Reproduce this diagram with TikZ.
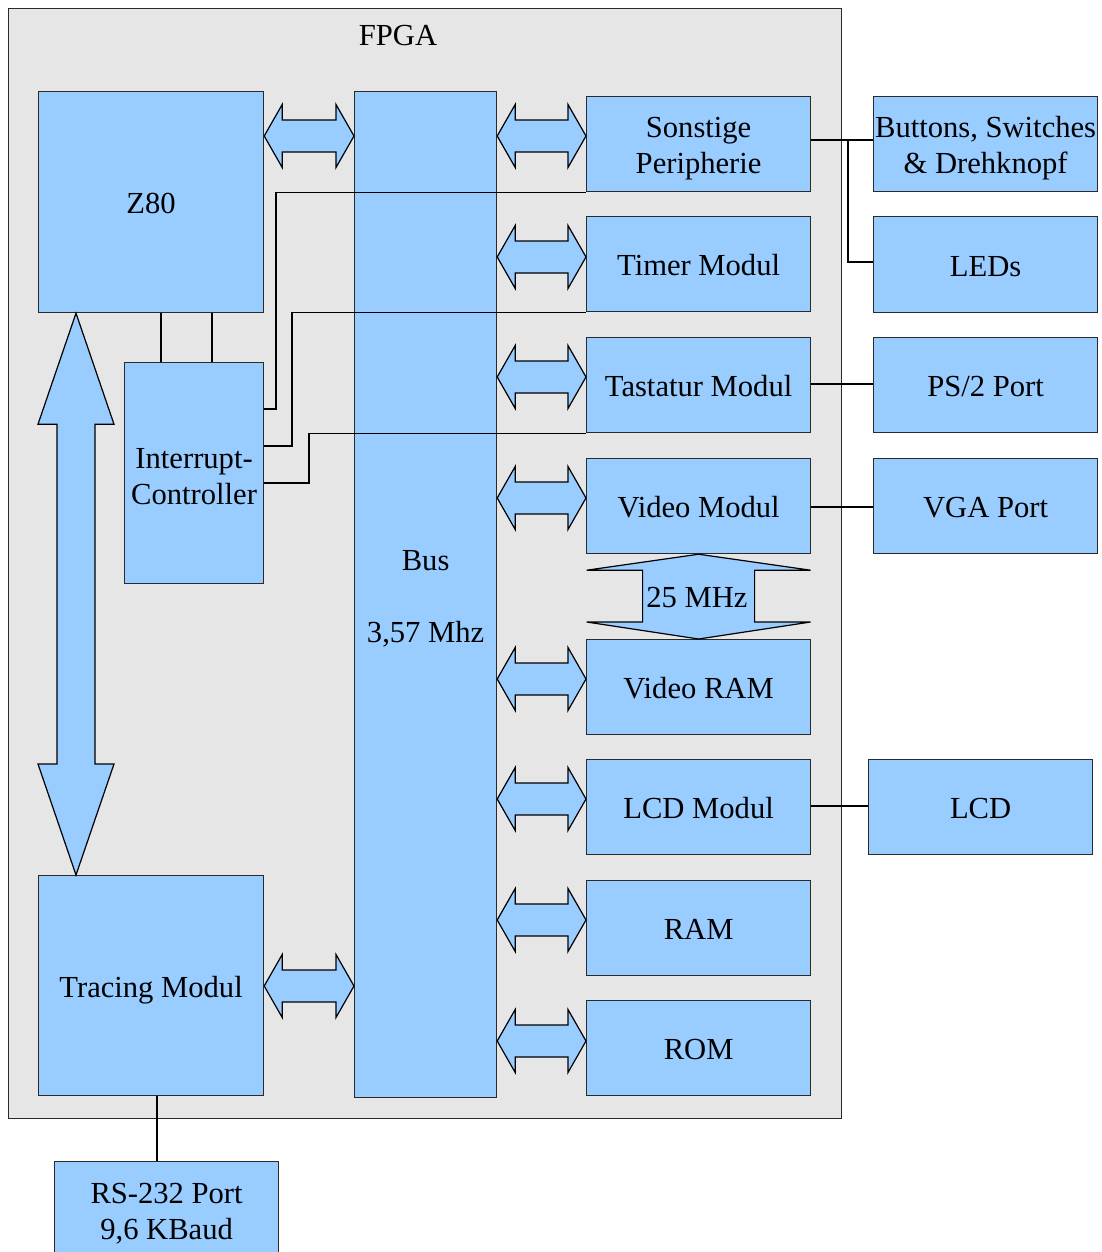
\documentclass[tikz,border=0pt]{standalone}
\usepackage{fontspec}
\setmainfont{Liberation Serif}
\usetikzlibrary{calc}
\definecolor{boxblue}{HTML}{99CCFF}
\definecolor{fpgagray}{HTML}{E6E6E6}
\definecolor{edge}{HTML}{2A2A2A}
\newcommand\fs{\fontsize{30.6}{36}\selectfont}
\newcommand\tstrut[1]{\rule{0pt}{#1pt}}
\tikzset{
  blk/.style={draw=edge, fill=boxblue, line width=1.2pt, inner sep=0pt, align=center, font=\fs, anchor=north west},
  one/.style={text height=30pt, text depth=6.5pt},
  modbox/.style={blk, minimum width=224pt, minimum height=95pt},
  fpgabox/.style={draw=edge, fill=fpgagray, line width=1.2pt, inner sep=0pt, anchor=north west},
  wire/.style={draw=black, line width=1.2pt},
  bigarrow/.style={draw=black, fill=boxblue, line width=1.2pt, line join=miter},
  lbl/.style={font=\fs, inner sep=0pt}
}
\newcommand\harrow[3]{%
  \coordinate (L) at (#1.east|-0,#3);
  \coordinate (R) at (#2.west|-0,#3);
  \draw[bigarrow] (L) -- ($(L)+(18,-31.5)$) -- ($(L)+(18,-16)$) -- ($(R)+(-18,-16)$)
    -- ($(R)+(-18,-31.5)$) -- (R) -- ($(R)+(-18,31.5)$) -- ($(R)+(-18,16)$)
    -- ($(L)+(18,16)$) -- ($(L)+(18,31.5)$) -- cycle;}
\begin{document}
\begin{tikzpicture}[x=1pt,y=-1pt]
\useasboundingbox (0,0) rectangle (1102,1252);
% FPGA frame
\node[fpgabox, minimum width=833pt, minimum height=1110pt] (fpga) at (8,8) {};
\node[lbl] (fpgat) at (398,36) {FPGA};
% left blocks
\node[blk, one, minimum width=225pt, minimum height=221pt] (z80) at (38,91) {Z80};
\node[blk, minimum width=142pt, minimum height=1006pt] (bus) at (354,91) {\tstrut{28}Bus\\[36pt]3,57 Mhz};
\node[blk, minimum width=139pt, minimum height=221pt] (ic) at (124,362) {\tstrut{27}Interrupt-\\Controller};
\node[blk, one, minimum width=225pt, minimum height=220pt] (trace) at (38,875) {Tracing Modul};
% modules
\node[modbox] (sonst) at (586,96) {\tstrut{30}Sonstige\\Peripherie};
\node[modbox, one] (timer) at (586,216) {Timer Modul};
\node[modbox, one] (tast) at (586,337) {Tastatur Modul};
\node[modbox, one] (video) at (586,458) {Video Modul};
\node[modbox, one] (vram) at (586,639) {Video RAM};
\node[modbox, one] (lcdm) at (586,759) {LCD Modul};
\node[modbox, one] (ram) at (586,880) {RAM};
\node[modbox, one] (rom) at (586,1000) {ROM};
% external
\node[modbox] (btn) at (873,96) {\tstrut{30}Buttons, Switches\\ \& Drehknopf};
\node[modbox, one, minimum height=96pt] (leds) at (873,216) {LEDs};
\node[modbox, one] (ps2) at (873,337) {PS/2 Port};
\node[modbox, one] (vga) at (873,458) {VGA Port};
\node[modbox, one] (lcd) at (868,759) {LCD};
\node[modbox, minimum height=100pt] (rs) at (54,1161) {\tstrut{24}RS-232 Port\\9,6 KBaud};
% bus arrows
\harrow{z80}{bus}{136}
\harrow{trace}{bus}{986}
\harrow{bus}{sonst}{136}
\harrow{bus}{timer}{257}
\harrow{bus}{tast}{377}
\harrow{bus}{video}{498}
\harrow{bus}{vram}{679}
\harrow{bus}{lcdm}{799}
\harrow{bus}{ram}{920}
\harrow{bus}{rom}{1041}
% vertical arrow Z80 <-> Tracing
\coordinate (T) at (z80.south-|76,0);
\coordinate (B) at (trace.north-|76,0);
\draw[bigarrow] (T) -- ($(T)+(38,111)$) -- ($(T)+(19,111)$) -- ($(B)+(19,-111)$)
  -- ($(B)+(38,-111)$) -- (B) -- ($(B)+(-38,-111)$) -- ($(B)+(-19,-111)$)
  -- ($(T)+(-19,111)$) -- ($(T)+(-38,111)$) -- cycle;
% 25 MHz arrow
\coordinate (VT) at (video.south);
\coordinate (VB) at (vram.north);
\draw[bigarrow] (VT) -- ($(VT)+(112,16)$) -- ($(VT)+(56,16)$) -- ($(VB)+(56,-17)$)
  -- ($(VB)+(112,-17)$) -- (VB) -- ($(VB)+(-112,-17)$) -- ($(VB)+(-56,-17)$)
  -- ($(VT)+(-56,16)$) -- ($(VT)+(-112,16)$) -- cycle;
\node[lbl] (mhz) at (697,598) {25 MHz};
% Z80 <-> interrupt controller
\draw[wire] (z80.south-|161,0) -- (ic.north-|161,0);
\draw[wire] (z80.south-|212,0) -- (ic.north-|212,0);
% interrupt lines
\draw[wire] (ic.east|-0,409) -- (276,409) |- (sonst.south west);
\draw[wire] (ic.east|-0,446) -- (292,446) |- (timer.south west);
\draw[wire] (ic.east|-0,483) -- (309,483) |- (tast.south west);
% external connections
\coordinate (J) at (848,140);
\draw[wire] (sonst.east|-0,140) -- (btn.west|-0,140);
\draw[wire] (J) |- (leds.west|-0,262);
\draw[wire] (tast.east|-0,384) -- (ps2.west|-0,384);
\draw[wire] (video.east|-0,507) -- (vga.west|-0,507);
\draw[wire] (lcdm.east|-0,806) -- (lcd.west|-0,806);
\draw[wire] (trace.south-|157,0) -- (rs.north-|157,0);
\end{tikzpicture}
\end{document}
